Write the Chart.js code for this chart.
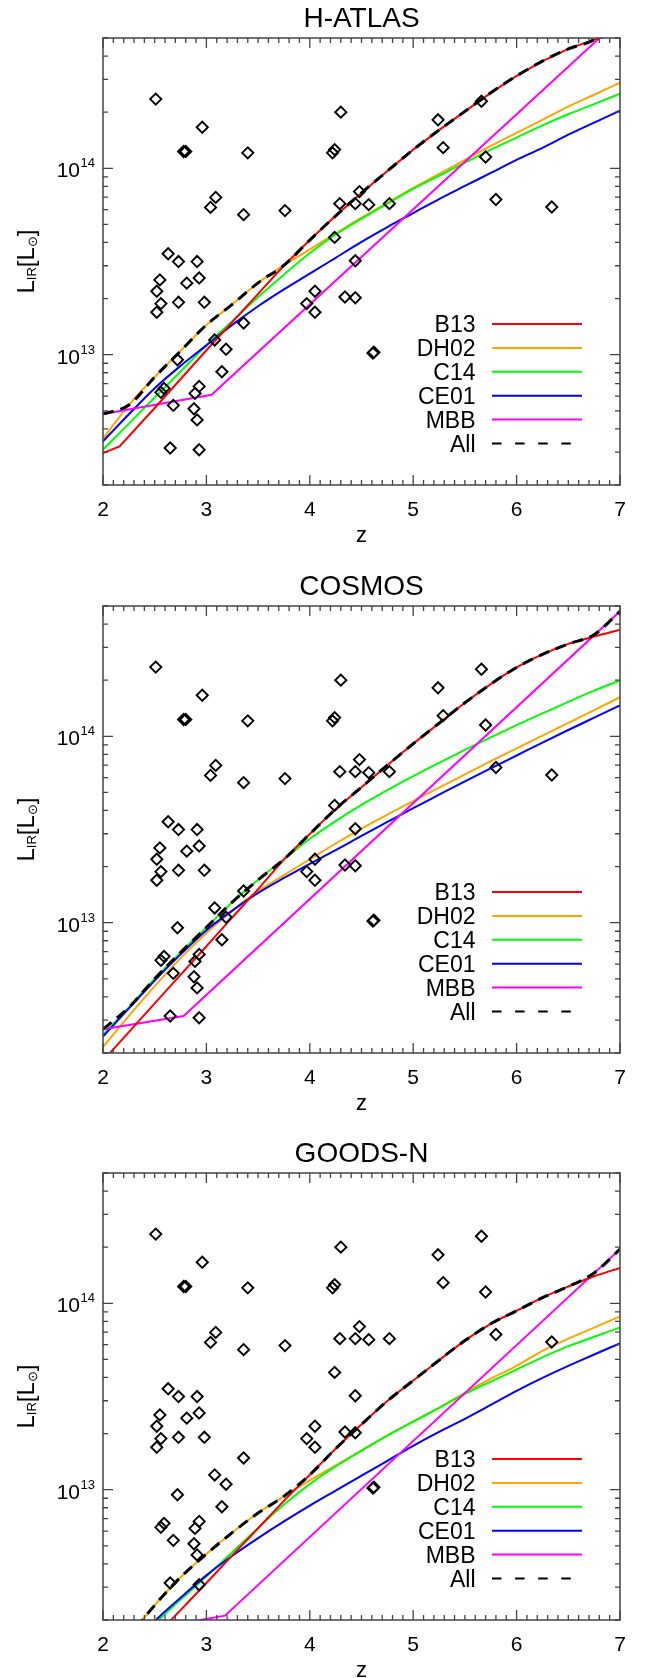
<!DOCTYPE html>
<html><head><meta charset="utf-8">
<script src="https://cdn.jsdelivr.net/npm/chart.js@4.4.0/dist/chart.umd.min.js"></script>
<style>
html,body{margin:0;padding:0;background:#fff;}
body{width:648px;height:1678px;position:relative;overflow:hidden;}
.p{position:absolute;left:0;width:648px;height:567px;}
</style></head><body>
<div class="p" style="top:0px"><canvas id="c1" width="648" height="567"></canvas></div>
<div class="p" style="top:568px"><canvas id="c2" width="648" height="567"></canvas></div>
<div class="p" style="top:1135px"><canvas id="c3" width="648" height="567"></canvas></div>
<script>
// ---------- data ----------
const Z = [2,2.25,2.5,2.75,3,3.25,3.5,3.75,4,4.25,4.5,4.75,5,5.25,5.5,5.75,6,6.25,6.5,6.75,7];

const zObs = [2.51,2.96,2.78,2.80,3.40,4.22,4.24,4.30,3.09,3.04,3.36,3.76,4.29,4.48,4.44,4.57,4.77,4.24,2.63,2.73,
  2.91,2.55,2.93,2.81,2.52,2.56,2.73,2.98,2.52,3.36,3.97,4.05,4.05,4.34,4.44,4.44,2.72,3.08,3.19,3.15,
  2.59,2.56,2.93,2.89,2.68,2.88,2.91,2.65,2.93,5.66,5.24,5.29,5.70,5.80,6.34,4.61,4.62];
const lirObs = [2.35e14,1.66e14,1.23e14,1.23e14,1.21e14,1.21e14,1.26e14,2.0e14,6.98e13,6.17e13,5.64e13,5.93e13,6.46e13,7.5e13,6.46e13,6.38e13,6.46e13,4.26e13,3.48e13,3.16e13,
  3.16e13,2.52e13,2.58e13,2.42e13,2.19e13,1.88e13,1.91e13,1.91e13,1.69e13,1.48e13,1.88e13,2.19e13,1.69e13,2.04e13,2.02e13,3.19e13,9.4e12,1.20e13,1.07e13,8.1e12,
  6.6e12,6.28e12,6.76e12,6.2e12,5.35e12,5.13e12,4.47e12,3.16e12,3.09e12,2.29e14,1.82e14,1.29e14,1.15e14,6.8e13,6.2e13,1.02e13,1.03e13];

// H-ATLAS
const zB13_HATLAS = [2,2.16,2.5,3,3.5,3.75,4,4.25,4.5,4.75,5,5.25,5.5,5.75,6,6.25,6.5,6.75,7];
const B13_HATLAS  = [2.97e12,3.22e12,5.18e12,1.057e13,2.12e13,3.01e13,4.12e13,5.56e13,7.38e13,9.66e13,1.259e14,1.603e14,2.02e14,2.54e14,3.13e14,3.76e14,4.37e14,4.90e14,5.31e14];
const DH02_HATLAS = [3.55e12,5.37e12,7.59e12,1.047e13,1.445e13,1.862e13,2.43e13,3.02e13,3.67e13,4.47e13,5.43e13,6.53e13,7.85e13,9.33e13,1.109e14,1.318e14,1.549e14,1.820e14,2.14e14,2.48e14,2.88e14];
const C14_HATLAS  = [3.09e12,4.27e12,5.89e12,8.13e12,1.122e13,1.514e13,2.04e13,2.69e13,3.51e13,4.42e13,5.37e13,6.46e13,7.76e13,9.12e13,1.072e14,1.259e14,1.462e14,1.698e14,1.950e14,2.21e14,2.51e14];
const CE01_HATLAS = [3.43e12,4.79e12,6.61e12,8.71e12,1.122e13,1.445e13,1.820e13,2.24e13,2.72e13,3.31e13,4.03e13,4.84e13,5.75e13,6.84e13,8.04e13,9.44e13,1.109e14,1.288e14,1.514e14,1.758e14,2.04e14];
const zMBB_HATLAS = [2,3.05,7];
const MBB_HATLAS  = [4.81e12,6.10e12,6.31e14];
const ALL_HATLAS  = [4.81e12,5.37e12,7.59e12,1.047e13,1.445e13,1.862e13,2.43e13,3.02e13,4.12e13,5.56e13,7.38e13,9.66e13,1.259e14,1.603e14,2.02e14,2.54e14,3.13e14,3.76e14,4.37e14,4.90e14,6.31e14];

// COSMOS
const B13_COSMOS  = [1.82e12,2.59e12,3.69e12,5.25e12,7.48e12,1.067e13,1.514e13,2.18e13,2.99e13,4.07e13,5.33e13,7.00e13,9.12e13,1.175e14,1.514e14,1.905e14,2.34e14,2.75e14,3.13e14,3.43e14,3.73e14];
const DH02_COSMOS = [2.15e12,3.16e12,4.57e12,6.46e12,8.81e12,1.161e13,1.479e13,1.80e13,2.19e13,2.66e13,3.20e13,3.80e13,4.49e13,5.30e13,6.24e13,7.35e13,8.61e13,1.009e14,1.180e14,1.380e14,1.622e14];
const C14_COSMOS  = [2.51e12,3.51e12,5.01e12,6.92e12,9.44e12,1.288e13,1.698e13,2.19e13,2.82e13,3.51e13,4.29e13,5.15e13,6.12e13,7.21e13,8.45e13,9.86e13,1.148e14,1.327e14,1.531e14,1.758e14,1.995e14];
const CE01_COSMOS = [2.45e12,3.47e12,4.90e12,6.76e12,9.12e12,1.161e13,1.445e13,1.738e13,2.07e13,2.45e13,2.92e13,3.47e13,4.12e13,4.86e13,5.73e13,6.73e13,7.89e13,9.25e13,1.081e14,1.259e14,1.466e14];
const zMBB_COSMOS = [2,2.78,7];
const MBB_COSMOS  = [2.68e12,3.16e12,4.68e14];
const ALL_COSMOS  = [2.68e12,3.51e12,5.01e12,6.92e12,9.44e12,1.288e13,1.698e13,2.19e13,2.99e13,4.07e13,5.33e13,7.00e13,9.12e13,1.175e14,1.514e14,1.905e14,2.34e14,2.75e14,3.13e14,3.51e14,4.68e14];

// GOODS-N
const B13_GOODSN  = [8.24e11,1.148e12,1.614e12,2.26e12,3.16e12,4.44e12,6.21e12,8.71e12,1.202e13,1.660e13,2.24e13,2.99e13,3.85e13,4.95e13,6.31e13,7.76e13,9.12e13,1.072e14,1.230e14,1.396e14,1.549e14];
const DH02_GOODSN = [1.072e12,1.622e12,2.40e12,3.39e12,4.52e12,5.89e12,7.50e12,9.23e12,1.122e13,1.349e13,1.622e13,1.950e13,2.32e13,2.75e13,3.31e13,3.94e13,4.62e13,5.56e13,6.46e13,7.41e13,8.51e13];
const C14_GOODSN  = [9.55e11,1.380e12,1.905e12,2.57e12,3.43e12,4.62e12,6.24e12,8.32e12,1.072e13,1.334e13,1.622e13,1.950e13,2.32e13,2.75e13,3.27e13,3.80e13,4.42e13,5.13e13,5.89e13,6.61e13,7.41e13];
const CE01_GOODSN = [1.0e12,1.413e12,1.972e12,2.63e12,3.47e12,4.42e12,5.50e12,6.76e12,8.22e12,9.89e12,1.189e13,1.429e13,1.718e13,2.04e13,2.40e13,2.85e13,3.39e13,3.98e13,4.62e13,5.31e13,6.10e13];
const zMBB_GOODSN = [2,3.18,7];
const MBB_GOODSN  = [1.622e12,2.11e12,1.95e14];
const ALL_GOODSN  = [1.072e12,1.622e12,2.40e12,3.39e12,4.52e12,5.89e12,7.50e12,9.23e12,1.202e13,1.660e13,2.24e13,2.99e13,3.85e13,4.95e13,6.31e13,7.76e13,9.12e13,1.072e14,1.230e14,1.455e14,1.95e14];

const X_TICKS = [2,3,4,5,6,7];
const Y_MAJOR = [1e13,1e14];
const Y_MAJOR_EXP = ['13','14'];
const TITLES = ['H-ATLAS','COSMOS','GOODS-N'];
const LEGEND_LABELS = ['B13','DH02','C14','CE01','MBB','All'];
const X_MIN = 2, X_MAX = 7, Y_MIN = 2e12, Y_MAX = 5e14;

// ---------- styles ----------
const COLORS = {B13:'#ff0000', DH02:'#ffa500', C14:'#00ff00', CE01:'#0000ff', MBB:'#ff00ff', All:'#000000'};
const FONT = '"Liberation Sans", Arial, Helvetica, sans-serif';

function pts(zs, ls){ return zs.map((z,i)=>({x:z, y:ls[i]})); }

const deco = {
  id:'deco',
  afterDraw(chart){
    const {ctx, chartArea:a, scales:{x, y}} = chart;
    const title = chart.options.plugins.deco.title;
    ctx.save();
    ctx.strokeStyle = '#444'; ctx.lineWidth = 1.5;
    ctx.strokeRect(a.left, a.top, a.right - a.left, a.bottom - a.top);
    ctx.beginPath();
    ctx.lineWidth = 1.3;
    for (let i = 20; i <= 70; i++) {
      const px = x.getPixelForValue(i/10);
      const len = (i % 10 === 0) ? 10 : 5;
      ctx.moveTo(px, a.bottom); ctx.lineTo(px, a.bottom - len);
      ctx.moveTo(px, a.top); ctx.lineTo(px, a.top + len);
    }
    for (let d = 12; d <= 14; d++) {
      for (let m = 1; m <= 9; m++) {
        const v = m * Math.pow(10, d);
        if (v < Y_MIN * 0.999 || v > Y_MAX * 1.001) continue;
        const py = y.getPixelForValue(v);
        const len = (m === 1) ? 10 : 5;
        ctx.moveTo(a.left, py); ctx.lineTo(a.left + len, py);
        ctx.moveTo(a.right, py); ctx.lineTo(a.right - len, py);
      }
    }
    ctx.stroke();
    ctx.fillStyle = '#000';
    ctx.font = '21px ' + FONT; ctx.textAlign = 'center'; ctx.textBaseline = 'alphabetic';
    X_TICKS.forEach(t => ctx.fillText(String(t), x.getPixelForValue(t), a.bottom + 31));
    Y_MAJOR.forEach((v, i) => {
      const py = y.getPixelForValue(v);
      ctx.textAlign = 'right';
      ctx.font = '13px ' + FONT;
      const wSup = ctx.measureText(Y_MAJOR_EXP[i]).width;
      ctx.fillText(Y_MAJOR_EXP[i], 95, py - 1);
      ctx.font = '21px ' + FONT;
      ctx.fillText('10', 95 - wSup - 0.5, py + 9);
    });
    ctx.textAlign = 'center';
    ctx.font = '28px ' + FONT;
    ctx.fillText(title, (a.left + a.right) / 2, 27);
    ctx.font = '22px ' + FONT;
    ctx.fillText('z', (a.left + a.right) / 2, a.bottom + 57);
    const parts = [
      {t:'L', f:24, dy:0}, {t:'IR', f:13, dy:2}, {t:'[', f:24, dy:0},
      {t:'L', f:24, dy:0}, {t:'\u2299', f:13, dy:3}, {t:']', f:24, dy:0}
    ];
    let total = 0;
    parts.forEach(p => { ctx.font = p.f + 'px ' + FONT; p.w = ctx.measureText(p.t).width; total += p.w; });
    ctx.save();
    ctx.translate(34, (a.top + a.bottom) / 2);
    ctx.rotate(-Math.PI / 2);
    ctx.textAlign = 'left';
    let cx = -total / 2;
    parts.forEach(p => { ctx.font = p.f + 'px ' + FONT; ctx.fillText(p.t, cx, p.dy); cx += p.w; });
    ctx.restore();
    LEGEND_LABELS.forEach((lab, i) => {
      const ry = a.top + 286 + i * 23.9;
      ctx.font = '23px ' + FONT; ctx.textAlign = 'right'; ctx.fillStyle = '#000';
      ctx.fillText(lab, 475.5, ry + 8);
      ctx.beginPath();
      ctx.strokeStyle = COLORS[lab];
      if (lab === 'All') { ctx.lineWidth = 2.2; ctx.setLineDash([9.5, 13.6]); ctx.moveTo(492, ry); ctx.lineTo(572, ry); }
      else { ctx.lineWidth = 2; ctx.setLineDash([]); ctx.moveTo(492, ry); ctx.lineTo(582, ry); }
      ctx.stroke();
      ctx.setLineDash([]);
    });
    ctx.restore();
  }
};

function makeChart(id, title, s){
  const line = (zs, ls, key, extra) => Object.assign({
    label:key, data:pts(zs, ls), showLine:true, borderColor:COLORS[key], backgroundColor:COLORS[key],
    borderWidth:2, pointRadius:0, pointHoverRadius:0, cubicInterpolationMode:'monotone', fill:false
  }, extra || {});
  const straight = {cubicInterpolationMode:'default', tension:0};
  const datasets = [
    {label:'obs', data:pts(zObs, lirObs), showLine:false, pointStyle:'rectRot', pointRadius:5.6,
     pointBorderWidth:1.9, borderColor:'#000', backgroundColor:'rgba(0,0,0,0)', order:0},
    line(Z, s.All, 'All', {borderWidth:3, borderDash:[11,7], order:1}),
    line(s.zB13 || Z, s.B13, 'B13', Object.assign({order:2}, s.zB13 ? straight : {})),
    line(Z, s.DH02, 'DH02', {order:6}),
    line(Z, s.C14, 'C14', {order:5}),
    line(Z, s.CE01, 'CE01', {order:4}),
    line(s.zMBB, s.MBB, 'MBB', Object.assign({order:3}, straight))
  ];
  return new Chart(document.getElementById(id), {
    type:'scatter',
    data:{datasets},
    options:{
      responsive:false, animation:false, devicePixelRatio:1, events:[],
      layout:{padding:{left:103, right:28, top:38, bottom:82}},
      scales:{
        x:{type:'linear', min:X_MIN, max:X_MAX, display:false},
        y:{type:'logarithmic', min:Y_MIN, max:Y_MAX, display:false}
      },
      plugins:{legend:{display:false}, tooltip:{enabled:false}, deco:{title}}
    },
    plugins:[deco]
  });
}

makeChart('c1', TITLES[0], {zB13:zB13_HATLAS, B13:B13_HATLAS, DH02:DH02_HATLAS, C14:C14_HATLAS, CE01:CE01_HATLAS, zMBB:zMBB_HATLAS, MBB:MBB_HATLAS, All:ALL_HATLAS});
makeChart('c2', TITLES[1], {B13:B13_COSMOS, DH02:DH02_COSMOS, C14:C14_COSMOS, CE01:CE01_COSMOS, zMBB:zMBB_COSMOS, MBB:MBB_COSMOS, All:ALL_COSMOS});
makeChart('c3', TITLES[2], {B13:B13_GOODSN, DH02:DH02_GOODSN, C14:C14_GOODSN, CE01:CE01_GOODSN, zMBB:zMBB_GOODSN, MBB:MBB_GOODSN, All:ALL_GOODSN});
</script>
</body></html>
